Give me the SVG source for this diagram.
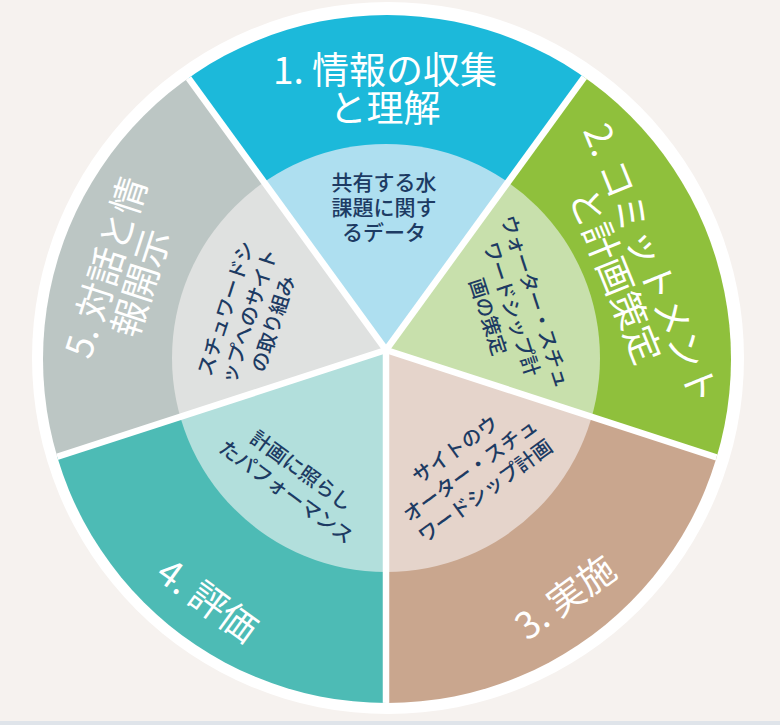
<svg xmlns="http://www.w3.org/2000/svg" width="780" height="725" viewBox="0 0 780 725">
<style>
.outer{font-family:"Noto Sans CJK JP","Noto Sans",sans-serif;font-size:37px;fill:#ffffff;font-weight:400;text-anchor:middle}
.inner{font-family:"Noto Sans CJK JP","Noto Sans",sans-serif;font-size:20px;fill:#1d3b63;font-weight:500;text-anchor:middle}
.sep{stroke:#ffffff;stroke-width:6.5;fill:none}
</style>
<defs>
<clipPath id="co"><circle cx="387" cy="359" r="344"/></clipPath>
<clipPath id="ci"><circle cx="386" cy="358" r="214"/></clipPath>
<path id="w1" d="M386 350 L33.3 -135.4 L738.7 -135.4 Z"/>
<path id="w2" d="M386 350 L738.7 -135.4 L956.7 535.4 Z"/>
<path id="w3" d="M386 350 L956.7 535.4 L386 950 Z"/>
<path id="w4" d="M386 350 L386 950 L-184.7 535.4 Z"/>
<path id="w5" d="M386 350 L-184.7 535.4 L33.3 -135.4 Z"/>
</defs>
<rect x="0" y="0" width="780" height="725" fill="#f6f2ef"/>
<rect x="0" y="721" width="780" height="4" fill="#dfe4ea"/>
<circle cx="388" cy="358" r="356" fill="#ffffff"/>
<g id="seg1">
<use href="#w1" fill="#1cb9da" clip-path="url(#co)"/>
<use href="#w1" fill="#aedff0" clip-path="url(#ci)"/>
<text class="outer" x="385" y="84">1. 情報の収集</text>
<text class="outer" x="385" y="122">と理解</text>
<text class="inner" style="font-size:21px" x="384"><tspan x="384" y="190">共有する水</tspan><tspan x="384" y="215">課題に関す</tspan><tspan x="384" y="240">るデータ</tspan></text>
</g>
<g id="seg2">
<use href="#w2" fill="#8fc03c" clip-path="url(#co)"/>
<use href="#w2" fill="#c8e0ac" clip-path="url(#ci)"/>
<g transform="translate(633,271) rotate(68)">
<text class="outer" x="0" y="-6">2. コミットメント</text>
<text class="outer" x="-2" y="32">と計画策定</text>
</g>
<g transform="translate(512,309) rotate(72)">
<text class="inner"><tspan x="0" y="-17.5">ウォーター・スチュ</tspan><tspan x="0" y="7.5">ワードシップ計</tspan><tspan x="0" y="32.5">画の策定</tspan></text>
</g>
</g>
<g id="seg3">
<use href="#w3" fill="#c9a68e" clip-path="url(#co)"/>
<use href="#w3" fill="#e5d4cb" clip-path="url(#ci)"/>
<g transform="translate(565,597) rotate(-36)">
<text class="outer" x="0" y="14">3. 実施</text>
</g>
<g transform="translate(470,470) rotate(-36)">
<text class="inner"><tspan x="0" y="-18">サイトのウ</tspan><tspan x="0" y="7.5">オーター・スチュ</tspan><tspan x="0" y="33">ワードシップ計画</tspan></text>
</g>
</g>
<g id="seg4">
<use href="#w4" fill="#4dbbb5" clip-path="url(#co)"/>
<use href="#w4" fill="#b2dfdc" clip-path="url(#ci)"/>
<g transform="translate(208,600) rotate(36)">
<text class="outer" x="0" y="14">4. 評価</text>
</g>
<g transform="translate(294,481) rotate(36)">
<text class="inner"><tspan x="0" y="-5.5">計画に照らし</tspan><tspan x="0" y="20.5">たパフォーマンス</tspan></text>
</g>
</g>
<g id="seg5">
<use href="#w5" fill="#bcc6c4" clip-path="url(#co)"/>
<use href="#w5" fill="#dfe1e0" clip-path="url(#ci)"/>
<g transform="translate(124.5,273.5) rotate(-72)">
<text class="outer" x="0" y="-6">5. 対話と情</text>
<text class="outer" x="-4" y="32">報開示</text>
</g>
<g transform="translate(249,316) rotate(-72)">
<text class="inner"><tspan x="0" y="-17.5">スチュワードシ</tspan><tspan x="0" y="7.5">ップへのサイト</tspan><tspan x="0" y="32.5">の取り組み</tspan></text>
</g>
</g>
<g id="connectors" clip-path="url(#co)">
<line class="sep" x1="386" y1="350" x2="33.3" y2="-135.4"/>
<line class="sep" x1="386" y1="350" x2="738.7" y2="-135.4"/>
<line class="sep" x1="386" y1="350" x2="956.7" y2="535.4"/>
<line class="sep" x1="386" y1="350" x2="386" y2="950"/>
<line class="sep" x1="386" y1="350" x2="-184.7" y2="535.4"/>
</g>
</svg>
